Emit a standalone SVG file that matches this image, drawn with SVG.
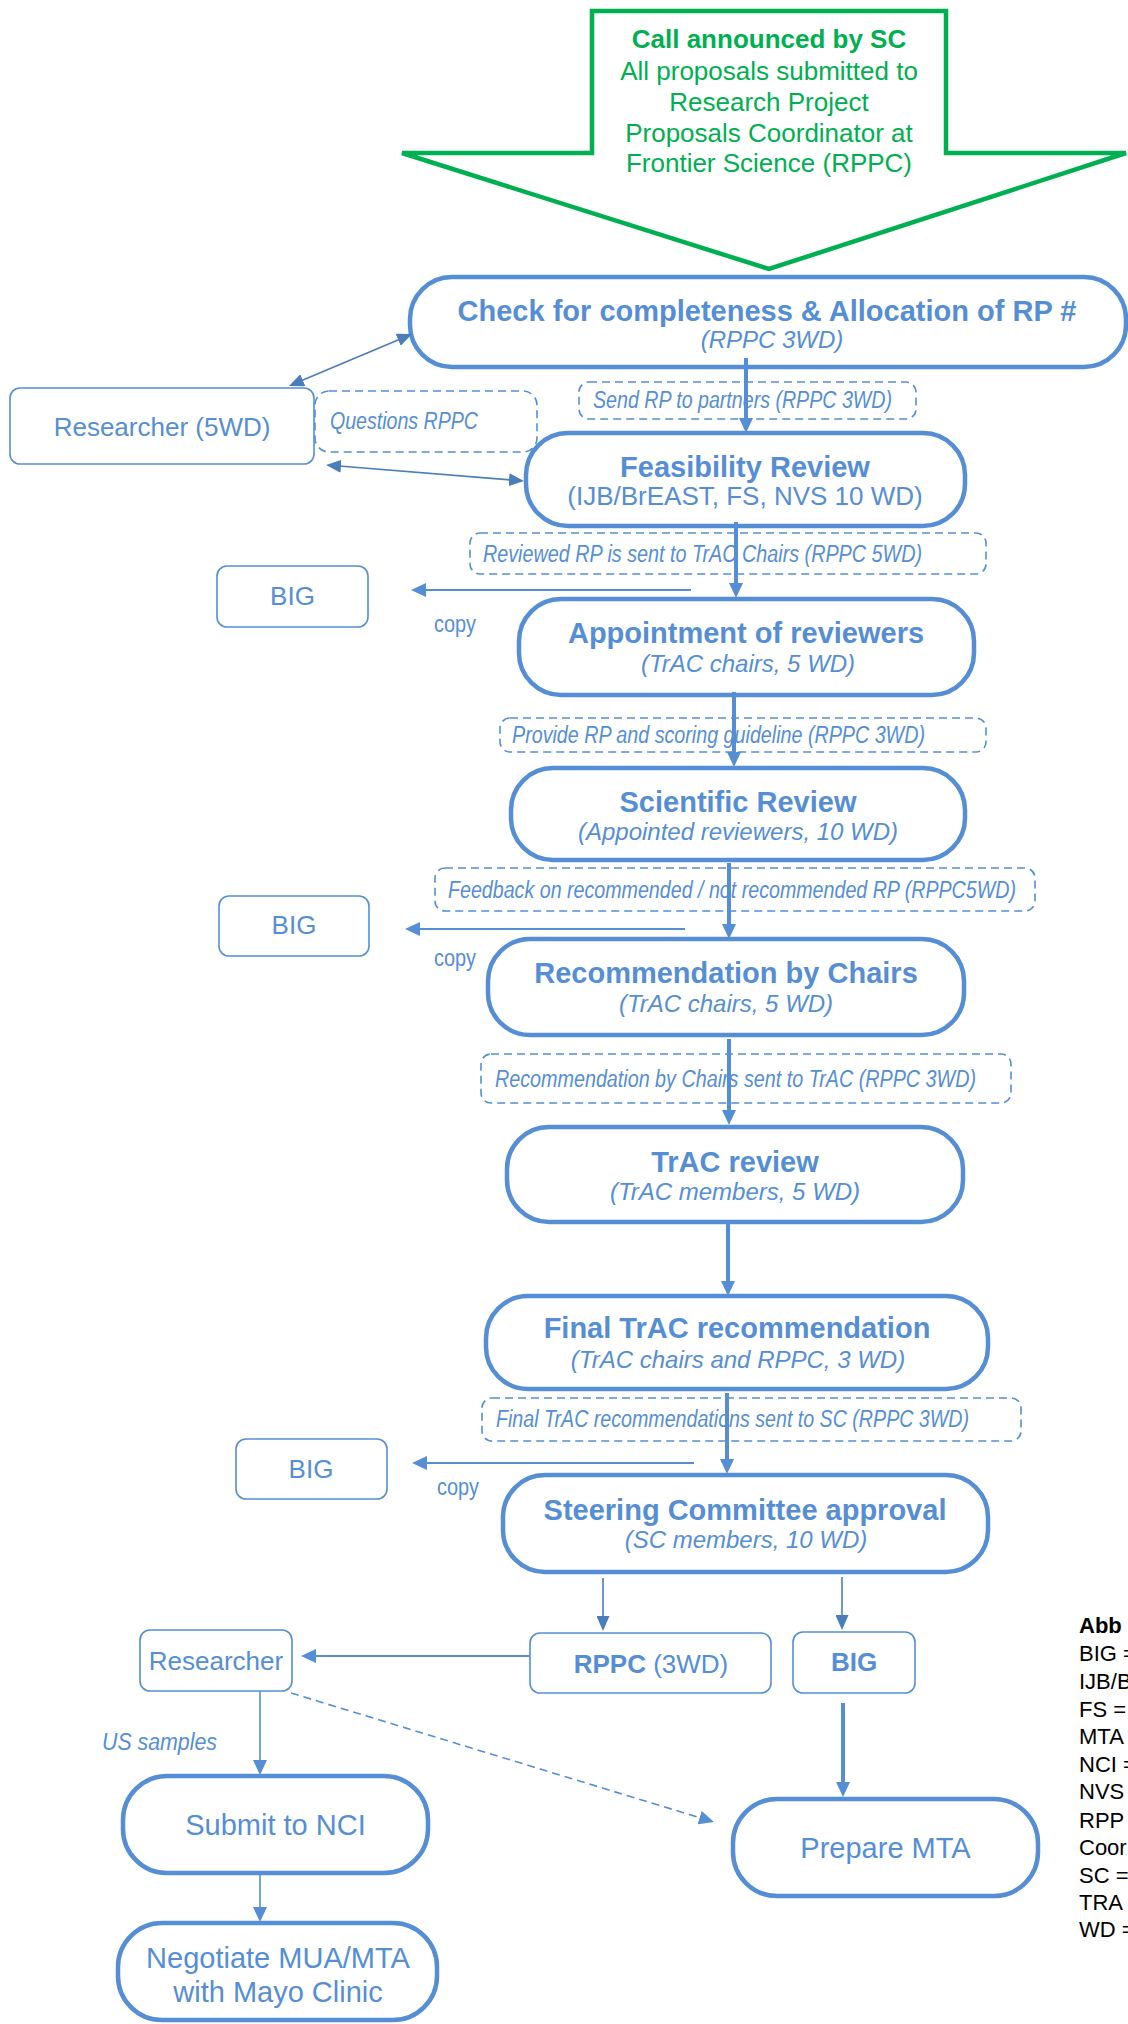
<svg xmlns="http://www.w3.org/2000/svg" width="1128" height="2024" viewBox="0 0 1128 2024">
<style>
  text { font-family: "Liberation Sans", Arial, sans-serif; fill: #558ED5; }
  .stad { fill: #fff; stroke: #558ED5; stroke-width: 4.5; }
  .box { fill: #fff; stroke: #558ED5; stroke-width: 1.6; }
  .dbox { fill: none; stroke: #558ED5; stroke-width: 1.6; stroke-dasharray: 8 5; }
  .t { font-size: 29px; font-weight: bold; text-anchor: middle; }
  .s { font-size: 24px; font-style: italic; text-anchor: middle; }
  .r { font-size: 26px; text-anchor: middle; }
  .big { font-size: 29px; text-anchor: middle; }
  .lab { font-size: 23px; font-style: italic; }
  .copy { font-size: 23px; }
  .g { fill: #00B050; font-size: 26px; text-anchor: middle; }
  .leg { fill: #000; font-size: 22px; }
  .thick { stroke: #558ED5; stroke-width: 4; fill: none; }
  .mid { stroke: #558ED5; stroke-width: 2; fill: none; }
  .thin { stroke: #4A7EBB; stroke-width: 1.6; fill: none; }
  .thinb { stroke: #558ED5; stroke-width: 1.6; fill: none; }
</style>
<defs>
  <marker id="ab" markerUnits="userSpaceOnUse" markerWidth="15" markerHeight="14" refX="5" refY="7" orient="auto-start-reverse">
    <path d="M0,0 L15,7 L0,14 z" fill="#558ED5"/>
  </marker>
  <marker id="ad" markerUnits="userSpaceOnUse" markerWidth="15" markerHeight="13" refX="5" refY="6.5" orient="auto-start-reverse">
    <path d="M0,0 L15,6.5 L0,13 z" fill="#4A7EBB"/>
  </marker>
</defs>

<g id="call">
  <path d="M592,11 L946,11 L946,153 L1126,153 L769,269 L402,153 L592,153 Z" fill="#fff" stroke="#00B050" stroke-width="4.5"/>
  <text class="g" x="769" y="48" font-weight="bold">Call announced by SC</text>
  <text class="g" x="769" y="80">All proposals submitted to</text>
  <text class="g" x="769" y="111">Research Project</text>
  <text class="g" x="769" y="142">Proposals Coordinator at</text>
  <text class="g" x="769" y="172">Frontier Science (RPPC)</text>
</g>

<g id="check">
  <rect class="stad" x="410" y="277" width="716" height="90" rx="42"/>
  <text class="t" x="767" y="321">Check for completeness &amp; Allocation of RP #</text>
  <text class="s" x="772" y="348">(RPPC 3WD)</text>
</g>

<g id="researcher1">
  <rect class="box" x="10" y="388" width="304" height="76" rx="10"/>
  <text class="r" x="162" y="436">Researcher (5WD)</text>
</g>

<g id="questions">
  <rect class="dbox" x="315" y="391" width="222" height="61" rx="14"/>
  <text class="lab" x="330" y="429" textLength="148" lengthAdjust="spacingAndGlyphs">Questions RPPC</text>
</g>

<g id="send">
  <rect class="dbox" x="579" y="382" width="337" height="37" rx="10"/>
  <text class="lab" x="593" y="408" textLength="299" lengthAdjust="spacingAndGlyphs">Send RP to partners (RPPC 3WD)</text>
</g>

<g id="feasibility">
  <rect class="stad" x="526" y="433" width="439" height="93" rx="42"/>
  <text class="t" x="745" y="477">Feasibility Review</text>
  <text class="r" x="745" y="505" font-size="24">(IJB/BrEAST, FS, NVS 10 WD)</text>
</g>

<g id="reviewed">
  <rect class="dbox" x="470" y="533" width="516" height="41" rx="10"/>
  <text class="lab" x="483" y="562" textLength="439" lengthAdjust="spacingAndGlyphs">Reviewed RP is sent to TrAC Chairs (RPPC 5WD)</text>
</g>

<g id="big1">
  <rect class="box" x="217" y="566" width="151" height="61" rx="10"/>
  <text class="r" x="292.5" y="605">BIG</text>
</g>

<g id="appointment">
  <rect class="stad" x="519" y="599" width="455" height="96" rx="42"/>
  <text class="t" x="746" y="643">Appointment of reviewers</text>
  <text class="s" x="748" y="672">(TrAC chairs, 5 WD)</text>
</g>

<g id="provide">
  <rect class="dbox" x="500" y="718" width="486" height="34" rx="10"/>
  <text class="lab" x="512" y="743" textLength="413" lengthAdjust="spacingAndGlyphs">Provide RP and scoring guideline (RPPC 3WD)</text>
</g>

<g id="scientific">
  <rect class="stad" x="511" y="768" width="454" height="92" rx="42"/>
  <text class="t" x="738" y="812">Scientific Review</text>
  <text class="s" x="738" y="840">(Appointed reviewers, 10 WD)</text>
</g>

<g id="feedback">
  <rect class="dbox" x="435" y="868" width="600" height="43" rx="10"/>
  <text class="lab" x="448" y="898" textLength="568" lengthAdjust="spacingAndGlyphs">Feedback on recommended / not recommended RP (RPPC5WD)</text>
</g>

<g id="big2">
  <rect class="box" x="219" y="896" width="150" height="60" rx="10"/>
  <text class="r" x="294" y="934">BIG</text>
</g>

<g id="recommendation">
  <rect class="stad" x="488" y="939" width="476" height="96" rx="42"/>
  <text class="t" x="726" y="983">Recommendation by Chairs</text>
  <text class="s" x="726" y="1012">(TrAC chairs, 5 WD)</text>
</g>

<g id="recsent">
  <rect class="dbox" x="481" y="1054" width="530" height="49" rx="10"/>
  <text class="lab" x="495" y="1087" textLength="481" lengthAdjust="spacingAndGlyphs">Recommendation by Chairs sent to TrAC (RPPC 3WD)</text>
</g>

<g id="tracreview">
  <rect class="stad" x="507" y="1127" width="456" height="95" rx="42"/>
  <text class="t" x="735" y="1172">TrAC review</text>
  <text class="s" x="735" y="1200">(TrAC members, 5 WD)</text>
</g>

<g id="finaltrac">
  <rect class="stad" x="486" y="1296" width="502" height="93" rx="42"/>
  <text class="t" x="737" y="1338">Final TrAC recommendation</text>
  <text class="s" x="738" y="1368">(TrAC chairs and RPPC, 3 WD)</text>
</g>

<g id="finalsent">
  <rect class="dbox" x="482" y="1398" width="539" height="43" rx="10"/>
  <text class="lab" x="496" y="1427" textLength="473" lengthAdjust="spacingAndGlyphs">Final TrAC recommendations sent to SC (RPPC 3WD)</text>
</g>

<g id="big3">
  <rect class="box" x="236" y="1439" width="151" height="60" rx="10"/>
  <text class="r" x="311" y="1478">BIG</text>
</g>

<g id="scapproval">
  <rect class="stad" x="503" y="1475" width="485" height="97" rx="42"/>
  <text class="t" x="745" y="1520">Steering Committee approval</text>
  <text class="s" x="746" y="1548">(SC members, 10 WD)</text>
</g>

<g id="rppc">
  <rect class="box" x="530" y="1633" width="241" height="60" rx="10"/>
  <text class="r" x="651" y="1673"><tspan font-weight="bold">RPPC</tspan> (3WD)</text>
</g>

<g id="big4">
  <rect class="box" x="793" y="1632" width="122" height="61" rx="10"/>
  <text class="r" x="854" y="1671" font-weight="bold">BIG</text>
</g>

<g id="researcher2">
  <rect class="box" x="140" y="1630" width="152" height="61" rx="10"/>
  <text class="r" x="216" y="1670">Researcher</text>
</g>

<g id="submit">
  <rect class="stad" x="123" y="1776" width="305" height="97" rx="44"/>
  <text class="big" x="275.5" y="1835">Submit to NCI</text>
</g>

<g id="preparemta">
  <rect class="stad" x="733" y="1799" width="305" height="97" rx="44"/>
  <text class="big" x="885.5" y="1858">Prepare MTA</text>
</g>

<g id="negotiate">
  <rect class="stad" x="118" y="1923" width="319" height="97" rx="44"/>
  <text class="big" x="278" y="1968">Negotiate MUA/MTA</text>
  <text class="big" x="278" y="2002">with Mayo Clinic</text>
</g>

<g id="legend">
  <text class="leg" x="1079" y="1633" font-weight="bold">Abb</text>
  <text class="leg" x="1079" y="1661">BIG =</text>
  <text class="leg" x="1079" y="1689">IJB/B</text>
  <text class="leg" x="1079" y="1717">FS =</text>
  <text class="leg" x="1079" y="1744">MTA</text>
  <text class="leg" x="1079" y="1772">NCI =</text>
  <text class="leg" x="1079" y="1799">NVS</text>
  <text class="leg" x="1079" y="1828">RPP</text>
  <text class="leg" x="1079" y="1855">Coor</text>
  <text class="leg" x="1079" y="1883">SC =</text>
  <text class="leg" x="1079" y="1910">TRA</text>
  <text class="leg" x="1079" y="1937">WD =</text>
</g>

<g id="connectors">
  <line class="thin" x1="298.2" y1="382.1" x2="402.8" y2="337.9" marker-start="url(#ad)" marker-end="url(#ad)"/>
  <line class="thin" x1="336" y1="465.8" x2="514" y2="480.2" marker-start="url(#ad)" marker-end="url(#ad)"/>
  <line class="thick" x1="746" y1="358" x2="746" y2="423" marker-end="url(#ab)"/>
  <line class="thick" x1="736" y1="522" x2="736" y2="588" marker-end="url(#ab)"/>
  <line class="thick" x1="734" y1="692" x2="734" y2="757" marker-end="url(#ab)"/>
  <line class="thick" x1="729" y1="863" x2="729" y2="929" marker-end="url(#ab)"/>
  <line class="thick" x1="729" y1="1039" x2="729" y2="1115" marker-end="url(#ab)"/>
  <line class="thick" x1="728" y1="1222" x2="728" y2="1286" marker-end="url(#ab)"/>
  <line class="thick" x1="727" y1="1393" x2="727" y2="1464" marker-end="url(#ab)"/>
  <line class="mid" x1="691" y1="590" x2="421" y2="590" marker-end="url(#ab)"/>
  <line class="mid" x1="685" y1="929" x2="415" y2="929" marker-end="url(#ab)"/>
  <line class="mid" x1="694" y1="1463" x2="422" y2="1463" marker-end="url(#ab)"/>
  <line class="thin" x1="603" y1="1578" x2="603" y2="1621" marker-end="url(#ad)"/>
  <line class="thin" x1="842" y1="1577" x2="842" y2="1620" marker-end="url(#ad)"/>
  <line class="mid" stroke-width="3" x1="530" y1="1656" x2="311" y2="1656" marker-end="url(#ab)"/>
  <line class="thick" x1="843" y1="1703" x2="843" y2="1787" marker-end="url(#ab)"/>
  <line class="thinb" x1="260" y1="1691" x2="260" y2="1765" marker-end="url(#ab)"/>
  <line class="thinb" x1="260" y1="1873" x2="260" y2="1912" marker-end="url(#ab)"/>
  <line class="thinb" stroke-dasharray="8 5" x1="291" y1="1693" x2="704.4" y2="1819.1" marker-end="url(#ab)"/>
  <text class="copy" x="434" y="632" textLength="42" lengthAdjust="spacingAndGlyphs">copy</text>
  <text class="copy" x="434" y="966" textLength="42" lengthAdjust="spacingAndGlyphs">copy</text>
  <text class="copy" x="437" y="1495" textLength="42" lengthAdjust="spacingAndGlyphs">copy</text>
  <text class="lab" x="102" y="1750" textLength="115" lengthAdjust="spacingAndGlyphs">US samples</text>
</g>
</svg>
